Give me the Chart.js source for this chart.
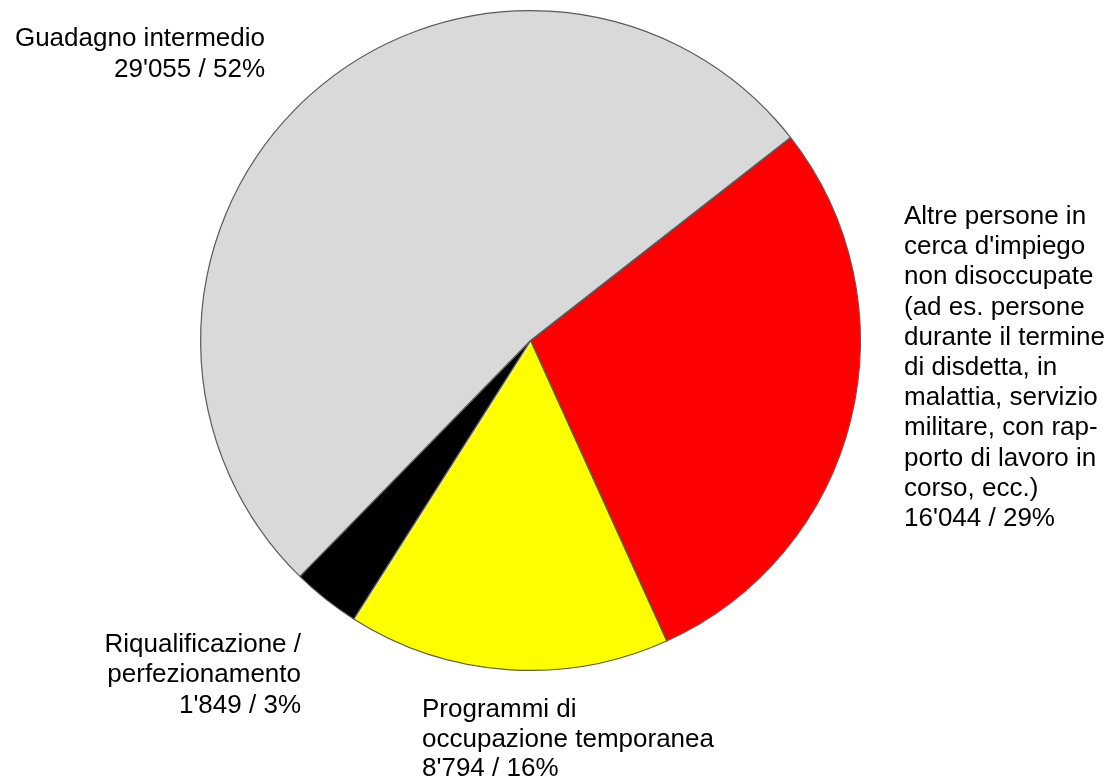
<!DOCTYPE html>
<html>
<head>
<meta charset="utf-8">
<script src="https://cdn.jsdelivr.net/npm/chart.js@4"></script>
<style>
  body { margin: 0; background: #ffffff; }
  #wrap { width: 1116px; height: 780px; position: relative; }
</style>
</head>
<body>
<div id="wrap"><canvas id="pieChart"></canvas></div>
<script>
// slices in drawing order (clockwise, starting top right)
const categories = [
	["Altre persone in", "cerca d'impiego", "non disoccupate", "(ad es. persone", "durante il termine", "di disdetta, in", "malattia, servizio", "militare, con rap-", "porto di lavoro in", "corso, ecc.)"],
	["Programmi di", "occupazione temporanea"],
	["Riqualificazione /", "perfezionamento"],
	["Guadagno intermedio"],
];
const counts = [16044, 8794, 1849, 29055];
const percents = [29, 16, 3, 52];
const sliceColors = ["#ff0000", "#ffff00", "#000000", "#d9d9d9"];

// where each label block sits: x anchor, first baseline, alignment, line height
const labelPlacement = [
	{ x: 904, y: 224, align: "left", lh: 30.2 },
	{ x: 422, y: 717, align: "left", lh: 29.6 },
	{ x: 301, y: 652, align: "right", lh: 30.3 },
	{ x: 265, y: 46, align: "right", lh: 30.6 },
];

const FONT = "26px 'Liberation Sans', Arial, sans-serif";

function fmt(n) {
	return String(n).replace(/\B(?=(\d{3})+(?!\d))/g, "'");
}

const pieLabels = {
	id: "pieLabels",
	afterDraw(chart) {
		const c = chart.ctx;
		c.save();
		c.font = FONT;
		c.fillStyle = "#000000";
		c.textBaseline = "alphabetic";
		categories.forEach((lines, i) => {
			const p = labelPlacement[i];
			const all = lines.concat([fmt(counts[i]) + " / " + percents[i] + "%"]);
			c.textAlign = p.align;
			all.forEach((t, k) => c.fillText(t, p.x, p.y + k * p.lh));
		});
		c.restore();
	},
};

const ctx = document.getElementById("pieChart").getContext("2d");
new Chart(ctx, {
	type: "pie",
	data: {
		labels: categories.map((l) => l.join(" ")),
		datasets: [
			{
				data: counts,
				backgroundColor: sliceColors,
				borderColor: "#5a5a5a",
				borderWidth: 1.2,
			},
		],
	},
	options: {
		responsive: true,
		maintainAspectRatio: false,
		animation: false,
		rotation: 52,
		layout: { padding: { left: 200, right: 255, top: 10, bottom: 109 } },
		plugins: {
			legend: { display: false },
			tooltip: { enabled: false },
		},
	},
	plugins: [pieLabels],
});
</script>
</body>
</html>
